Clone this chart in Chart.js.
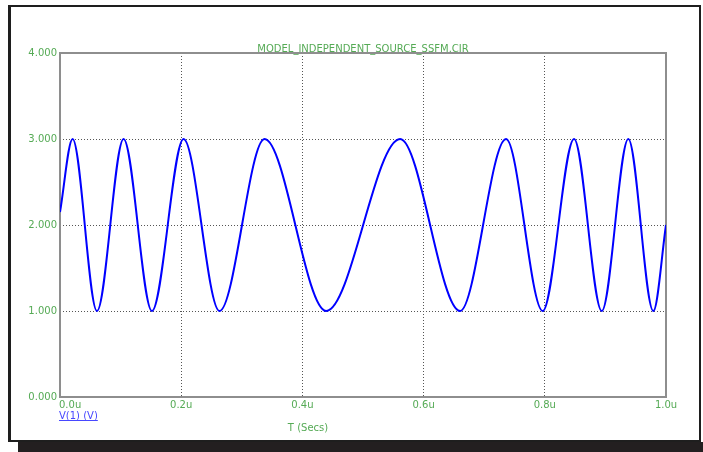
<!DOCTYPE html>
<html>
<head>
<meta charset="utf-8">
<script src="https://cdn.jsdelivr.net/npm/chart.js@4/dist/chart.umd.min.js"></script>
<style>
  body { margin: 0; background: #fff; }
  #frame { position: absolute; left: 8px; top: 5px; width: 693px; height: 437px; box-sizing: border-box;
           border-style: solid; border-color: #1e1e1e; border-width: 2px 2px 2px 3px; }
  #shadow { position: absolute; left: 18px; top: 442px; width: 685px; height: 10px; background: #231f20; }
  #wrap { position: absolute; left: 0; top: 0; width: 703px; height: 452px; }
</style>
</head>
<body>
<div id="frame"></div>
<div id="shadow"></div>
<div id="wrap"><canvas id="myChart" width="703" height="452"></canvas></div>
<script>
// Waveform V(1): start, each peak / trough, end (time in us)
const timeUs = [0, 0.0208, 0.0610, 0.1049, 0.1517, 0.2039, 0.2632, 0.3375, 0.4392,
  0.5613, 0.6602, 0.7361, 0.7966, 0.8483, 0.8940, 0.9378, 0.9791, 1.0];
const voltage = [2.15, 3, 1, 3, 1, 3, 1, 3, 1,
  3, 1, 3, 1, 3, 1, 3, 1, 2.0];

const yTickLabels = ['0.000', '1.000', '2.000', '3.000', '4.000'];
const xTickLabels = ['0.0u', '0.2u', '0.4u', '0.6u', '0.8u', '1.0u'];
const chartTitle = 'MODEL_INDEPENDENT_SOURCE_SSFM.CIR';
const xAxisTitle = 'T (Secs)';
const seriesName = 'V(1) (V)';

const green = '#55aa55';
const font = '10px "DejaVu Sans", Verdana, sans-serif';

const points = timeUs.map((t, i) => ({ x: t, y: voltage[i] }));

const overlay = {
  id: 'overlay',
  beforeDatasetsDraw(chart) {
    const a = chart.chartArea;
    const ctx = chart.ctx;
    ctx.save();
    ctx.strokeStyle = '#8e8e8e';
    ctx.lineWidth = 2;
    ctx.strokeRect(a.left, a.top, a.right - a.left, a.bottom - a.top);
    ctx.restore();
  },
  afterDraw(chart) {
    const ctx = chart.ctx;
    const a = chart.chartArea;
    const xs = chart.scales.x;
    ctx.save();
    ctx.font = font;
    ctx.fillStyle = green;
    ctx.textBaseline = 'alphabetic';

    // title
    ctx.textAlign = 'center';
    ctx.fillText(chartTitle, (a.left + a.right) / 2, 52);

    // x tick labels
    xTickLabels.forEach((lab, i) => {
      const px = xs.getPixelForValue(i * 0.2);
      ctx.textAlign = i === 0 ? 'left' : 'center';
      ctx.fillText(lab, i === 0 ? px - 1 : px, a.bottom + 11);
    });

    // x axis title
    ctx.textAlign = 'center';
    ctx.fillText(xAxisTitle, 308, 431);

    // series label, underlined
    ctx.fillStyle = '#4848ff';
    ctx.textAlign = 'left';
    ctx.fillText(seriesName, a.left - 1, 419);
    const w = ctx.measureText(seriesName).width;
    ctx.fillRect(a.left - 1, 420, w, 1);
    ctx.restore();
  }
};

const ctx = document.getElementById('myChart').getContext('2d');
new Chart(ctx, {
  type: 'line',
  data: {
    datasets: [{
      label: seriesName,
      data: points,
      borderColor: '#0000ff',
      borderWidth: 2,
      pointRadius: 0,
      fill: false,
      cubicInterpolationMode: 'monotone'
    }]
  },
  options: {
    responsive: false,
    animation: false,
    layout: { padding: { left: 0, right: 37, top: 53, bottom: 0 } },
    plugins: {
      legend: { display: false },
      tooltip: { enabled: false }
    },
    scales: {
      x: {
        type: 'linear',
        min: 0,
        max: 1,
        afterFit: s => { s.height = 55; },
        ticks: { stepSize: 0.2, display: false },
        grid: {
          drawTicks: false,
          color: c => (c.tick && (c.tick.value <= 0 || c.tick.value >= 1)) ? 'transparent' : '#555',
          lineWidth: 1
        },
        border: { display: false, dash: [1, 2] }
      },
      y: {
        min: 0,
        max: 4,
        afterFit: s => { s.width = 60; },
        ticks: {
          stepSize: 1,
          padding: 3,
          color: green,
          font: { family: '"DejaVu Sans", Verdana, sans-serif', size: 10 },
          callback: (v, i) => yTickLabels[i]
        },
        grid: {
          drawTicks: false,
          color: c => (c.tick && (c.tick.value <= 0 || c.tick.value >= 4)) ? 'transparent' : '#555',
          lineWidth: 1
        },
        border: { display: false, dash: [1, 2] }
      }
    }
  },
  plugins: [overlay]
});
</script>
</body>
</html>
